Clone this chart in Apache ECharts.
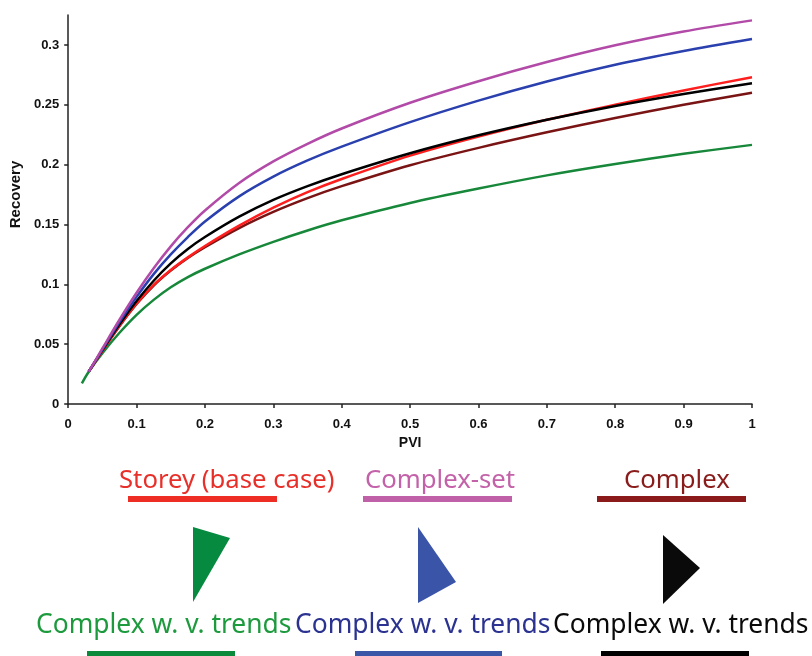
<!DOCTYPE html>
<html>
<head>
<meta charset="utf-8">
<script src="https://cdn.jsdelivr.net/npm/echarts@6/dist/echarts.min.js"></script>
<style>
  html, body { margin: 0; padding: 0; background: #fff; }
  #chart { width: 812px; height: 656px; }
</style>
</head>
<body>
<div id="chart"></div>
<script>
// PVI 取样点（绿线多一个起点 0.02）
const pvi = [0.03, 0.05, 0.075, 0.1, 0.125, 0.15, 0.175, 0.2, 0.25, 0.3, 0.35, 0.4, 0.5, 0.6, 0.7, 0.8, 0.9, 1.0];
const pviGreen = [0.02].concat(pvi);

// Recovery 读数
const storey     = [0.027, 0.0445, 0.0655, 0.084, 0.0995, 0.112, 0.1225, 0.132, 0.149, 0.164, 0.177, 0.188, 0.2075, 0.2235, 0.2375, 0.250, 0.262, 0.273];
const complexSet = [0.027, 0.0464, 0.0704, 0.0929, 0.1134, 0.1317, 0.1477, 0.1617, 0.1847, 0.2027, 0.2174, 0.2302, 0.2517, 0.2697, 0.2857, 0.2997, 0.3112, 0.3205];
const complex    = [0.027, 0.0445, 0.065, 0.0835, 0.099, 0.1115, 0.122, 0.131, 0.147, 0.1605, 0.172, 0.182, 0.1995, 0.214, 0.227, 0.239, 0.250, 0.260];
const trendGreen = [0.0173, 0.027, 0.0425, 0.0595, 0.0745, 0.087, 0.0975, 0.106, 0.113, 0.125, 0.1355, 0.145, 0.1535, 0.168, 0.180, 0.191, 0.2005, 0.209, 0.2165];
const trendBlue  = [0.027, 0.0455, 0.0685, 0.0895, 0.1085, 0.125, 0.1395, 0.1525, 0.1735, 0.190, 0.2035, 0.215, 0.2355, 0.2535, 0.2695, 0.2835, 0.295, 0.305];
const trendBlack = [0.027, 0.045, 0.0665, 0.086, 0.103, 0.1175, 0.1295, 0.1395, 0.1565, 0.1705, 0.182, 0.192, 0.2095, 0.2245, 0.2375, 0.249, 0.259, 0.268];

const yTicks = [0, 0.05, 0.1, 0.15, 0.2, 0.25, 0.3];

const AX = '#222';
const LBL = { color: '#111', fontFamily: '"Liberation Sans", Arial, sans-serif', fontWeight: 'bold', fontSize: 13 };
const LEG = '"Noto Sans", "Open Sans", sans-serif';

const pair = (xs, ys) => xs.map((x, i) => [x, ys[i]]);

function line(name, color, xs, ys) {
  return {
    name, type: 'line', data: pair(xs, ys),
    showSymbol: false, smooth: 0.3,
    lineStyle: { color, width: 2.5 }, itemStyle: { color },
    silent: true, animation: false,
  };
}

// 图例：彩色文字 + 下划色条 + 三角块（原图就是这种手绘式图例）
function legText(x, y, text, color, size) {
  return { type: 'text', left: x, top: y,
    style: { text, fill: color, font: size + 'px ' + LEG } };
}
function legBar(x, y, w, color) {
  return { type: 'rect', shape: { x, y, width: w, height: 6 }, style: { fill: color } };
}
function legTri(points, color) {
  return { type: 'polygon', shape: { points }, style: { fill: color } };
}

const chart = echarts.init(document.getElementById('chart'), null, { renderer: 'canvas' });
chart.setOption({
  backgroundColor: '#fff',
  animation: false,
  grid: { left: 67, right: 60, top: 15, bottom: 252, containLabel: false },
  xAxis: {
    type: 'value', min: 0, max: 1, interval: 0.1,
    name: 'PVI', nameLocation: 'middle', nameGap: 30,
    nameTextStyle: Object.assign({}, LBL, { fontSize: 14 }),
    axisLine: { lineStyle: { color: AX, width: 1.5 } },
    axisTick: { show: true, length: 4, lineStyle: { color: AX, width: 1.5 } },
    axisLabel: Object.assign({}, LBL, { margin: 14 }),
    splitLine: { show: false },
  },
  yAxis: {
    type: 'value', min: 0, max: 0.325, interval: 0.05,
    name: 'Recovery', nameLocation: 'middle', nameGap: 41, nameRotate: 90,
    nameTextStyle: Object.assign({}, LBL, { fontSize: 15, padding: [0, 0, 0, 30] }),
    axisLine: { show: true, lineStyle: { color: AX, width: 1.5 } },
    axisTick: { show: true, length: 4, lineStyle: { color: AX, width: 1.5 }, customValues: yTicks },
    axisLabel: Object.assign({}, LBL, { margin: 9, customValues: yTicks,
      formatter: (v) => (v > 0.31 ? '' : String(v)) }),
    splitLine: { show: false },
  },
  series: [
    line('Complex w. v. trends (green)', '#17883a', pviGreen, trendGreen),
    line('Complex', '#7a1414', pvi, complex),
    line('Storey (base case)', '#ff1e1e', pvi, storey),
    line('Complex w. v. trends (black)', '#000000', pvi, trendBlack),
    line('Complex w. v. trends (blue)', '#2a40ae', pvi, trendBlue),
    line('Complex-set', '#b24aa8', pvi, complexSet),
  ],
  graphic: [
    legText(119, 468, 'Storey (base case)', '#e8302a', 25.7),
    legBar(128, 496, 149, '#ee2e24'),
    legText(365, 468, 'Complex-set', '#c362a9', 25.7),
    legBar(363, 496, 149, '#c060a8'),
    legText(624, 468, 'Complex', '#8a1c1c', 25.7),
    legBar(597, 496, 149, '#8b1a1a'),

    legTri([[193, 527], [230, 538], [193, 602]], '#068a40'),
    legTri([[418, 527], [456, 582], [418, 603]], '#3a54a8'),
    legTri([[663, 535], [700, 568], [663, 604]], '#0a0a0a'),

    legText(36, 612, 'Complex w. v. trends', '#1e9a3e', 26.4),
    legText(295, 612, 'Complex w. v. trends', '#2b3290', 26.4),
    legText(553, 612, 'Complex w. v. trends', '#0a0a0a', 26.4),
    legBar(87, 651, 148, '#0a8a3a'),
    legBar(355, 651, 147, '#3a56a6'),
    legBar(601, 651, 148, '#000000'),
  ],
});
</script>
</body>
</html>
